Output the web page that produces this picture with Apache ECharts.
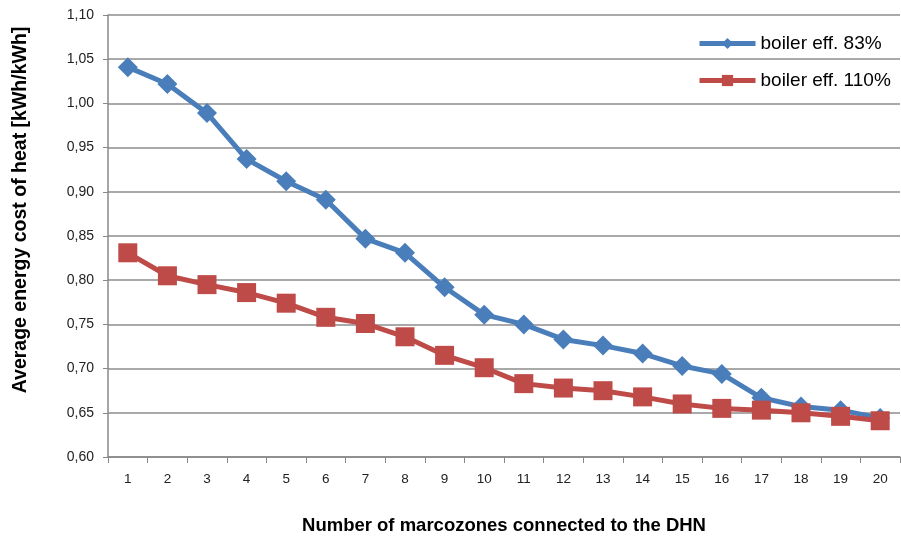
<!DOCTYPE html>
<html><head><meta charset="utf-8">
<script src="https://cdn.jsdelivr.net/npm/echarts@6/dist/echarts.min.js"></script>
<style>html,body{margin:0;padding:0;background:#fff}#c{width:901px;height:541px}</style>
</head><body><div id="c"></div>
<script>
const categories = ['1','2','3','4','5','6','7','8','9','10','11','12','13','14','15','16','17','18','19','20'];
const boiler83 = [1.041,1.022,0.989,0.937,0.912,0.891,0.847,0.831,0.792,0.761,0.750,0.733,0.726,0.717,0.703,0.694,0.667,0.657,0.653,0.644];
const boiler110 = [0.831,0.805,0.795,0.786,0.774,0.758,0.751,0.736,0.715,0.701,0.683,0.678,0.675,0.668,0.660,0.655,0.653,0.650,0.646,0.641];
const seriesNames = ['boiler eff. 83%','boiler eff. 110%'];
const xTitle = 'Number of marcozones connected to the DHN';
const yTitle = 'Average energy cost of heat [kWh/kWh]';
const chart = echarts.init(document.getElementById('c'));
const font = 'Liberation Sans, Arial, sans-serif';
chart.setOption({
  animation:false,
  grid:{left:108,right:1,top:15,bottom:84,containLabel:false,outerBoundsMode:'none'},
  legend:{orient:'vertical',left:692,top:29,itemGap:18,itemWidth:56,itemHeight:14,
    lineStyle:{width:5},
    textStyle:{fontFamily:font,fontSize:19,color:'#000'},
    data:seriesNames},
  graphic:[{type:'text',x:21,y:210,rotation:Math.PI/2,
    style:{text:yTitle,fontFamily:font,fontSize:19.5,fontWeight:'bold',fill:'#000',
      align:'center',verticalAlign:'middle'}}],
  xAxis:{type:'category',data:categories,boundaryGap:true,
    name:xTitle,nameLocation:'middle',nameGap:59,
    nameTextStyle:{fontFamily:font,fontSize:18.5,fontWeight:'bold',color:'#000'},
    axisLine:{lineStyle:{color:'#888',width:1.5}},
    axisTick:{show:true,interval:0,length:6,lineStyle:{color:'#888'}},
    axisLabel:{fontFamily:font,fontSize:13.5,color:'#222',margin:15}},
  yAxis:{type:'value',min:0.6,max:1.1,interval:0.05,
    axisLine:{show:true,lineStyle:{color:'#888',width:1.5}},
    axisTick:{show:true,length:5,lineStyle:{color:'#888'}},
    axisLabel:{fontFamily:font,fontSize:14,color:'#222',margin:14,
      formatter:v=>v.toFixed(2).replace('.',',')},
    splitLine:{lineStyle:{color:'#8c8c8c',width:1.5}}},
  series:[
    {name:seriesNames[0],type:'line',data:boiler83,symbol:'diamond',symbolSize:20,
      lineStyle:{color:'#4a7ebb',width:5},itemStyle:{color:'#4a7ebb'}},
    {name:seriesNames[1],type:'line',data:boiler110,symbol:'rect',symbolSize:19,
      lineStyle:{color:'#be4b48',width:5},itemStyle:{color:'#be4b48'}}
  ]
});
</script></body></html>
